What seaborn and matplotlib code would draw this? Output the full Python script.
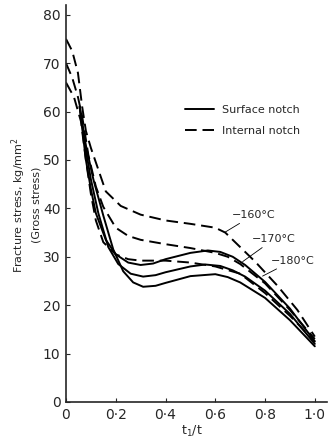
import numpy as np
import pandas as pd
import matplotlib
matplotlib.use("Agg")
import matplotlib.pyplot as plt
import seaborn as sns
from matplotlib.lines import Line2D

sns.set_style("ticks")
plt.rcParams["font.family"] = ["DejaVu Sans"]

# surface notch (solid) curves
surf_160_x = [0.055, 0.08, 0.10, 0.12, 0.16, 0.20, 0.25, 0.30, 0.35, 0.40, 0.50, 0.57, 0.62, 0.67, 0.72, 0.80, 0.90, 1.00]
surf_160_y = [61, 50, 44, 39, 33.5, 30.5, 28.8, 28.3, 28.6, 29.5, 30.8, 31.3, 31.0, 30.0, 28.3, 24.8, 19.3, 12.5]
surf_170_x = [0.055, 0.08, 0.10, 0.13, 0.17, 0.21, 0.26, 0.31, 0.36, 0.40, 0.50, 0.56, 0.62, 0.67, 0.72, 0.80, 0.90, 1.00]
surf_170_y = [61, 52, 46, 39, 32, 28.5, 26.5, 25.9, 26.2, 26.8, 28.0, 28.4, 28.1, 27.2, 25.9, 23.0, 18.2, 12.0]
surf_180_x = [0.055, 0.08, 0.11, 0.15, 0.19, 0.23, 0.27, 0.31, 0.36, 0.40, 0.50, 0.60, 0.65, 0.70, 0.80, 0.90, 1.00]
surf_180_y = [61, 53, 46, 38.5, 31.5, 27, 24.7, 23.8, 24.0, 24.6, 26.0, 26.4, 25.8, 24.7, 21.5, 16.9, 11.5]

# internal notch (dashed) curves
int_160_x = [0.0, 0.025, 0.048, 0.065, 0.08, 0.10, 0.12, 0.16, 0.22, 0.30, 0.40, 0.50, 0.60, 0.64, 0.68, 0.76, 0.85, 0.93, 1.00]
int_160_y = [75, 72.5, 68, 61, 56, 52.5, 49.5, 43.5, 40.5, 38.7, 37.5, 36.8, 36.0, 35.0, 33.0, 29.0, 24.0, 19.0, 13.5]
int_170_x = [0.0, 0.025, 0.048, 0.065, 0.09, 0.12, 0.15, 0.20, 0.25, 0.30, 0.40, 0.50, 0.60, 0.65, 0.70, 0.80, 0.90, 1.00]
int_170_y = [70, 67, 63, 59, 51, 44.5, 40.3, 36, 34.3, 33.5, 32.6, 31.8, 30.8, 30.0, 28.5, 24.5, 19.0, 13.0]
int_180_x = [0.0, 0.032, 0.06, 0.08, 0.10, 0.12, 0.15, 0.20, 0.25, 0.30, 0.40, 0.50, 0.60, 0.70, 0.80, 0.90, 1.00]
int_180_y = [66, 63, 58, 50, 43, 37.5, 33, 30.5, 29.5, 29.2, 29.2, 28.8, 28.0, 26.5, 22.5, 17.8, 12.5]

x_ticks = [0, 0.2, 0.4, 0.6, 0.8, 1.0]
x_ticklabels = ["0", "0·2", "0·4", "0·6", "0·8", "1·0"]
y_ticks = [0, 10, 20, 30, 40, 50, 60, 70, 80]

temp_labels = ["−160°C", "−170°C", "−180°C"]
label_text_pos = [(0.665, 38.6), (0.747, 33.6), (0.823, 29.2)]
label_point = [(0.64, 35.1), (0.71, 29.0), (0.79, 26.0)]

fig = plt.figure(figsize=(3.36, 4.43), dpi=100)
ax = fig.add_axes([0.1964, 0.0926, 0.7776, 0.896])

dash = (0, (6, 3))
for xs, ys in [(surf_160_x, surf_160_y), (surf_170_x, surf_170_y), (surf_180_x, surf_180_y)]:
    sns.lineplot(x=xs, y=ys, ax=ax, color="black", lw=1.4, linestyle="-")
for xs, ys in [(int_160_x, int_160_y), (int_170_x, int_170_y), (int_180_x, int_180_y)]:
    sns.lineplot(x=xs, y=ys, ax=ax, color="black", lw=1.4, linestyle=dash)

for lab, tp, pt in zip(temp_labels, label_text_pos, label_point):
    ax.annotate(lab, xy=pt, xytext=tp, ha="left", va="center", fontsize=8,
                arrowprops=dict(arrowstyle="-", lw=0.6, color="black",
                                shrinkA=0, shrinkB=0))

ax.set_xlim(0, 1.05)
ax.set_ylim(0, 82)
ax.set_xticks(x_ticks)
ax.set_xticklabels(x_ticklabels)
ax.set_yticks(y_ticks)
ax.tick_params(axis="both", direction="in", length=3, width=0.8, labelsize=10, pad=4)
sns.despine(ax=ax)
for s in ["left", "bottom"]:
    ax.spines[s].set_linewidth(1.2)

handles = [Line2D([], [], color="black", lw=1.4, linestyle="-"),
           Line2D([], [], color="black", lw=1.4, linestyle=dash)]
ax.legend(handles, ["Surface notch", "Internal notch"], loc="upper left",
          bbox_to_anchor=(0.52, 0.785), bbox_transform=fig.transFigure,
          frameon=False, fontsize=8, handlelength=2.6, labelspacing=1.0,
          handletextpad=0.8)

fig.text(0.075, 0.537, "Fracture stress, kg/mm$^2$\n(Gross stress)", rotation=90,
         ha="center", va="center", fontsize=8, multialignment="center", linespacing=1.4)
fig.text(0.571, 0.025, "t$_1$/t", ha="center", va="center", fontsize=9)

fig.savefig("out.png", dpi=100)
